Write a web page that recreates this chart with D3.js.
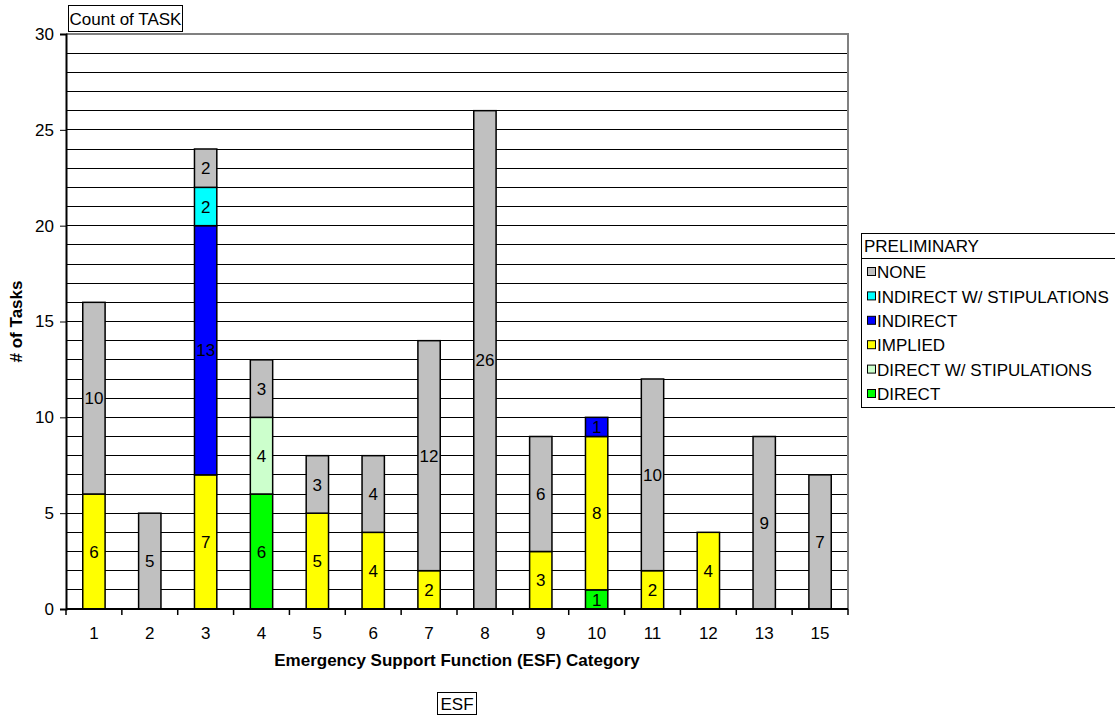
<!DOCTYPE html>
<html>
<head>
<meta charset="utf-8">
<script src="https://cdn.jsdelivr.net/npm/d3@7"></script>
<style>
  body { margin: 0; background: #fff; }
  svg { font-family: "Liberation Sans", Arial, sans-serif; }
</style>
</head>
<body>
<svg id="chart" width="1115" height="715"></svg>
<script>
// categories along the x axis
const categories = ["1", "2", "3", "4", "5", "6", "7", "8", "9", "10", "11", "12", "13", "15"];

// series, bottom to top of each stack
const seriesNames = ["DIRECT", "DIRECT W/ STIPULATIONS", "IMPLIED", "INDIRECT", "INDIRECT W/ STIPULATIONS", "NONE"];
const direct       = [0, 0, 0, 6, 0, 0, 0, 0, 0, 1, 0, 0, 0, 0];
const directStip   = [0, 0, 0, 4, 0, 0, 0, 0, 0, 0, 0, 0, 0, 0];
const implied      = [6, 0, 7, 0, 5, 4, 2, 0, 3, 8, 2, 4, 0, 0];
const indirect     = [0, 0, 13, 0, 0, 0, 0, 0, 0, 1, 0, 0, 0, 0];
const indirectStip = [0, 0, 2, 0, 0, 0, 0, 0, 0, 0, 0, 0, 0, 0];
const none         = [10, 5, 2, 3, 3, 4, 12, 26, 6, 0, 10, 0, 9, 7];

const yTicks = [0, 5, 10, 15, 20, 25, 30];

const colors = {
  "DIRECT": "#00ff00",
  "DIRECT W/ STIPULATIONS": "#ccffcc",
  "IMPLIED": "#ffff00",
  "INDIRECT": "#0000ff",
  "INDIRECT W/ STIPULATIONS": "#00ffff",
  "NONE": "#c0c0c0"
};

const seriesValues = [direct, directStip, implied, indirect, indirectStip, none];
const table = categories.map((c, i) => {
  const row = { cat: c };
  seriesNames.forEach((s, j) => { row[s] = seriesValues[j][i]; });
  return row;
});

const FS = "17px";

const svg = d3.select("#chart");
const margin = { top: 34, left: 66, right: 267, bottom: 106 };
const width = 1115 - margin.left - margin.right;
const height = 715 - margin.top - margin.bottom;

const g = svg.append("g").attr("transform", "translate(" + margin.left + "," + margin.top + ")");

const x = d3.scaleBand().domain(categories).range([0, width]).paddingInner(0.6).paddingOuter(0.3);
const y = d3.scaleLinear().domain([0, 30]).range([height, 0]);

// gridlines every 1
g.append("g")
  .selectAll("line")
  .data(d3.range(1, 30))
  .join("line")
  .attr("x1", 0).attr("x2", width)
  .attr("y1", d => y(d)).attr("y2", d => y(d))
  .attr("stroke", "#000").attr("stroke-width", 1)
  .attr("shape-rendering", "crispEdges");

// plot border top/right
g.append("path")
  .attr("d", "M0," + y(30) + "H" + width + "V" + height)
  .attr("fill", "none").attr("stroke", "#808080").attr("stroke-width", 2);

const stack = d3.stack().keys(seriesNames);
const layers = stack(table);

const layer = g.selectAll(".layer")
  .data(layers)
  .join("g")
  .attr("class", "layer")
  .attr("fill", d => colors[d.key]);

layer.selectAll("rect")
  .data(d => d.filter(p => p[1] - p[0] > 0))
  .join("rect")
  .attr("x", d => x(d.data.cat))
  .attr("y", d => y(d[1]))
  .attr("width", x.bandwidth())
  .attr("height", d => y(d[0]) - y(d[1]))
  .attr("stroke", "#000").attr("stroke-width", 1.5);

layer.selectAll("text")
  .data(d => d.filter(p => p[1] - p[0] > 0))
  .join("text")
  .attr("x", d => x(d.data.cat) + x.bandwidth() / 2)
  .attr("y", d => y((d[0] + d[1]) / 2))
  .attr("dy", "0.36em")
  .attr("text-anchor", "middle")
  .attr("fill", "#000")
  .style("font-size", FS)
  .text(d => d[1] - d[0]);

// y axis
const yAxis = g.append("g")
  .call(d3.axisLeft(y).tickValues(yTicks).tickSize(6).tickPadding(6));
yAxis.select(".domain").attr("stroke", "#000").attr("stroke-width", 2);
yAxis.selectAll("text").style("font-size", FS).attr("fill", "#000");

// x axis: ticks between categories
const xAxisG = g.append("g").attr("transform", "translate(0," + height + ")");
xAxisG.append("line")
  .attr("x1", 0).attr("x2", width).attr("stroke", "#000").attr("stroke-width", 2);
const step = x.step();
xAxisG.selectAll(".tk")
  .data(d3.range(0, categories.length + 1))
  .join("line")
  .attr("class", "tk")
  .attr("x1", d => d * step).attr("x2", d => d * step)
  .attr("y1", 0).attr("y2", 6)
  .attr("stroke", "#000").attr("stroke-width", 1.5);
xAxisG.selectAll(".lbl")
  .data(categories)
  .join("text")
  .attr("class", "lbl")
  .attr("x", d => x(d) + x.bandwidth() / 2)
  .attr("y", 30)
  .attr("text-anchor", "middle")
  .style("font-size", FS)
  .text(d => d);

// axis titles
svg.append("text")
  .attr("x", margin.left + width / 2)
  .attr("y", 666)
  .attr("text-anchor", "middle")
  .style("font-size", FS).style("font-weight", "bold")
  .text("Emergency Support Function (ESF) Category");

svg.append("text")
  .attr("transform", "translate(22," + (margin.top + height / 2) + ") rotate(-90)")
  .attr("text-anchor", "middle")
  .style("font-size", FS).style("font-weight", "bold")
  .text("# of Tasks");

// field buttons
function fieldBox (bx, by, bw, bh, label) {
  svg.append("rect")
    .attr("x", bx).attr("y", by).attr("width", bw).attr("height", bh)
    .attr("fill", "#fff").attr("stroke", "#000").attr("stroke-width", 1);
  svg.append("text")
    .attr("x", bx + bw / 2).attr("y", by + bh / 2).attr("dy", "0.36em")
    .attr("text-anchor", "middle")
    .style("font-size", FS)
    .text(label);
}
fieldBox(68.5, 5.5, 114, 26, "Count of TASK");
fieldBox(437.5, 692.5, 39, 22, "ESF");

// legend
const legend = svg.append("g").attr("transform", "translate(861,233)");
legend.append("rect")
  .attr("x", 0.5).attr("y", 0.5).attr("width", 270).attr("height", 174)
  .attr("fill", "#fff").attr("stroke", "#000").attr("stroke-width", 1);
legend.append("line")
  .attr("x1", 0).attr("x2", 270).attr("y1", 25.5).attr("y2", 25.5)
  .attr("stroke", "#000");
legend.append("text")
  .attr("x", 3).attr("y", 13).attr("dy", "0.36em")
  .style("font-size", FS)
  .text("PRELIMINARY");

const legendOrder = seriesNames.slice().reverse();
const item = legend.selectAll(".item")
  .data(legendOrder)
  .join("g")
  .attr("class", "item")
  .attr("transform", (d, i) => "translate(6," + (39 + i * 24.4) + ")");
item.append("rect")
  .attr("x", 0.5).attr("y", -4.5).attr("width", 8).attr("height", 8)
  .attr("fill", d => colors[d]).attr("stroke", "#000").attr("stroke-width", 1);
item.append("text")
  .attr("x", 10).attr("y", 0).attr("dy", "0.36em")
  .style("font-size", FS)
  .text(d => d);
</script>
</body>
</html>
